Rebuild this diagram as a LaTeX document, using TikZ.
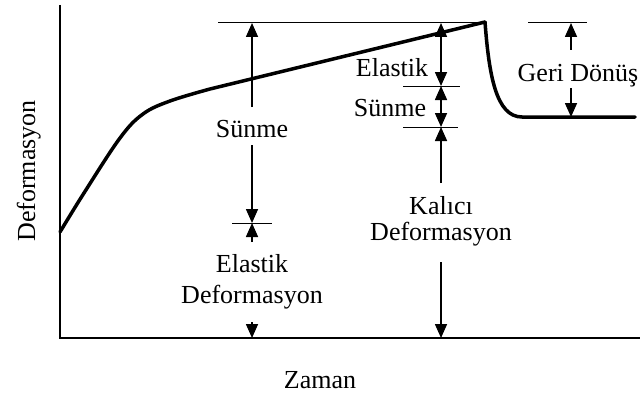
\documentclass[tikz,border=0pt]{standalone}
\usepackage{fontspec}
\setmainfont{Liberation Serif}
\usetikzlibrary{arrows.meta}
\begin{document}
\begin{tikzpicture}[x=1pt,y=-1pt,
  lbl/.style={font=\fontsize{26}{30}\selectfont, inner sep=0pt, anchor=base},
  dim/.style={line width=1.6pt, -{Triangle[length=14pt,width=12pt]}},
  dimboth/.style={line width=1.6pt, {Triangle[length=14pt,width=12pt]}-{Triangle[length=14pt,width=12pt]}},
  tickline/.style={line width=1pt},
  axisline/.style={line width=2.5pt},
  curveline/.style={line width=3.5pt, line join=round, line cap=round}]
\useasboundingbox (0,0) rectangle (644,396);
% axes
\coordinate (ytop) at (60,5);
\coordinate (orig) at (60,338);
\coordinate (xend) at (640,338);
\draw[axisline] (ytop) -- (orig) -- (xend);
% curve
\coordinate (peak) at (485,22);
\coordinate (flat) at (522,117);
\coordinate (flatend) at (635,117);
\draw[curveline] plot[smooth, tension=0.6] coordinates {(60,232) (84,193) (120,138) (143,114) (170,101) (210,89)} -- (peak);
\draw[curveline] (peak) .. controls (489,75) and (496,117) .. (flat) -- (flatend);
% top reference line
\coordinate (topl) at (218,23);
\coordinate (topr) at (485,23);
\draw[tickline] (topl) -- (topr);
% left column
\coordinate (la1) at (252,107);
\coordinate (lt1) at (252,23);
\coordinate (la2) at (252,145);
\coordinate (lb1) at (252,223);
\coordinate (la3) at (252,242);
\coordinate (la4) at (252,322);
\coordinate (lo) at (252,338);
\coordinate (ltl) at (232,223);
\coordinate (ltr) at (272,223);
\draw[tickline] (ltl) -- (ltr);
\draw[dim] (la1) -- (lt1);
\draw[dim] (la2) -- (lb1);
\draw[dim] (la3) -- (lb1);
\draw[dim] (la4) -- (lo);
\node[lbl] (sunme1) at (252,137) {Sünme};
\node[lbl] (elas1) at (252,272) {Elastik};
\node[lbl] (def1) at (252,303) {Deformasyon};
% right column
\coordinate (r0) at (441,23);
\coordinate (r1) at (441,86);
\coordinate (r2) at (441,127);
\coordinate (r3) at (441,183);
\coordinate (r4) at (441,262);
\coordinate (r5) at (441,338);
\coordinate (t1l) at (403,86);
\coordinate (t1r) at (460,86);
\coordinate (t2l) at (403,127);
\coordinate (t2r) at (458,127);
\draw[tickline] (t1l) -- (t1r);
\draw[tickline] (t2l) -- (t2r);
\draw[dimboth] (r0) -- (r1);
\draw[dimboth] (r1) -- (r2);
\draw[dim] (r3) -- (r2);
\draw[dim] (r4) -- (r5);
\node[lbl] (elas2) at (392,76) {Elastik};
\node[lbl] (sunme2) at (390,116) {Sünme};
\node[lbl] (kal) at (441,214) {Kalıcı};
\node[lbl] (def2) at (441,240) {Deformasyon};
% recovery
\coordinate (g0) at (571,23);
\coordinate (g1) at (571,50);
\coordinate (g2) at (571,88);
\coordinate (g3) at (571,117);
\coordinate (gtl) at (528,23);
\coordinate (gtr) at (587,23);
\draw[tickline] (gtl) -- (gtr);
\draw[dim] (g1) -- (g0);
\draw[dim] (g2) -- (g3);
\node[lbl] (geri) at (578,81) {Geri Dönüş};
% axis labels
\node[lbl, rotate=90] (ylab) at (35,171) {Deformasyon};
\node[lbl] (xlab) at (320,388) {Zaman};
\end{tikzpicture}
\end{document}
